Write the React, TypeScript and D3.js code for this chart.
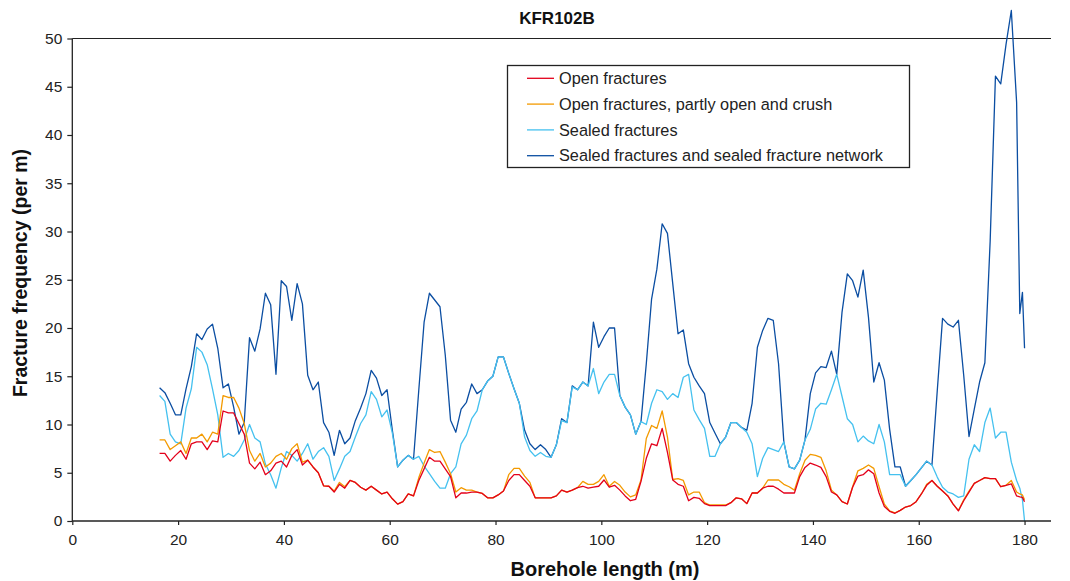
import * as d3 from 'd3';
import React, { useEffect, useRef } from 'react';

// borehole length (m) of each sample
const depths = [
  16.5, 17.5, 18.5, 19.5, 20.5, 21.5, 22.5, 23.5, 24.5, 25.5, 26.5, 27.5, 28.5, 29.5, 30.5, 31.5,
  32.5, 33.5, 34.5, 35.5, 36.5, 37.5, 38.5, 39.5, 40.5, 41.5, 42.5, 43.5, 44.5, 45.5, 46.5, 47.5,
  48.5, 49.5, 50.5, 51.5, 52.5, 53.5, 54.5, 55.5, 56.5, 57.5, 58.5, 59.5, 60.5, 61.5, 62.5, 63.5,
  64.5, 65.5, 66.5, 67.5, 68.5, 69.5, 70.5, 71.5, 72.5, 73.5, 74.5, 75.5, 76.5, 77.5, 78.5, 79.5,
  80.5, 81.5, 82.5, 83.5, 84.5, 85.5, 86.5, 87.5, 88.5, 89.5, 90.5, 91.5, 92.5, 93.5, 94.5, 95.5,
  96.5, 97.5, 98.5, 99.5, 100.5, 101.5, 102.5, 103.5, 104.5, 105.5, 106.5, 107.5, 108.5, 109.5, 110.5, 111.5,
  112.5, 113.5, 114.5, 115.5, 116.5, 117.5, 118.5, 119.5, 120.5, 121.5, 122.5, 123.5, 124.5, 125.5, 126.5, 127.5,
  128.5, 129.5, 130.5, 131.5, 132.5, 133.5, 134.5, 135.5, 136.5, 137.5, 138.5, 139.5, 140.5, 141.5, 142.5, 143.5,
  144.5, 145.5, 146.5, 147.5, 148.5, 149.5, 150.5, 151.5, 152.5, 153.5, 154.5, 155.5, 156.5, 157.5, 158.5, 159.5,
  160.5, 161.5, 162.5, 163.5, 164.5, 165.5, 166.5, 167.5, 168.5, 169.5, 170.5, 171.5, 172.5, 173.5, 174.5, 175.5,
  176.5, 177.5, 178.5, 179.1, 179.6, 180.0,
];

const openFractures = [
  7.0, 7.0, 6.2, 6.8, 7.3, 6.4, 8.0, 8.2, 8.2, 7.4, 8.3, 8.2, 11.4, 11.2, 11.2, 10.1,
  9.0, 6.0, 5.4, 6.1, 4.8, 5.2, 6.0, 6.2, 5.6, 6.8, 7.4, 5.8, 6.3, 5.6, 5.0, 3.65,
  3.6, 3.0, 3.8, 3.4, 4.2, 4.0, 3.5, 3.2, 3.6, 3.2, 2.8, 3.0, 2.3, 1.75, 2.0, 2.8,
  2.6, 4.2, 5.4, 6.6, 6.2, 6.2, 5.4, 4.6, 2.4, 2.9, 2.9, 3.0, 3.0, 2.86, 2.4, 2.4,
  2.7, 3.1, 4.2, 4.8, 4.8, 4.2, 3.6, 2.4, 2.4, 2.4, 2.4, 2.6, 3.2, 3.0, 3.2, 3.45,
  3.6, 3.4, 3.5, 3.6, 4.25, 3.5, 3.7, 3.2, 2.6, 2.1, 2.25, 4.1, 6.5, 8.0, 7.8, 9.6,
  7.1, 4.25, 3.8, 3.6, 2.1, 2.45, 2.35, 1.8, 1.6, 1.6, 1.6, 1.6, 1.9, 2.4, 2.3, 1.8,
  2.9, 2.9, 3.4, 3.6, 3.6, 3.3, 2.9, 2.9, 2.9, 4.6, 5.55, 6.0, 5.8, 5.55, 4.6, 3.0,
  2.7, 2.0, 1.76, 3.5, 4.65, 4.8, 5.3, 4.9, 2.9, 1.5, 1.0, 0.8, 1.1, 1.45, 1.6, 2.0,
  2.8, 3.7, 4.2, 3.6, 3.1, 2.6, 1.75, 1.05, 2.1, 3.0, 3.9, 4.2, 4.5, 4.4, 4.4, 3.55,
  3.7, 3.85, 2.6, 2.5, 2.45, 2.0,
];

const openPartlyCrush = [
  8.4, 8.4, 7.4, 7.8, 8.2, 7.0, 8.6, 8.6, 9.0, 8.2, 9.2, 9.0, 13.0, 12.8, 12.8, 11.7,
  10.1, 7.3, 6.2, 7.0, 5.6, 6.0, 6.7, 7.0, 6.4, 7.5, 8.0, 6.1, 6.3, 5.6, 5.0, 3.65,
  3.6, 3.1, 4.0, 3.55, 4.2, 4.0, 3.5, 3.2, 3.6, 3.2, 2.8, 3.0, 2.3, 1.75, 2.0, 2.8,
  2.6, 4.5, 6.0, 7.4, 7.1, 7.2, 6.1, 4.9, 3.0, 3.45, 3.2, 3.2, 3.0, 2.86, 2.4, 2.4,
  2.7, 3.1, 4.8, 5.45, 5.45, 4.65, 4.0, 2.4, 2.4, 2.4, 2.4, 2.6, 3.2, 3.0, 3.2, 3.45,
  4.1, 3.8, 3.8, 4.1, 4.8, 3.6, 4.1, 3.7, 3.0, 2.5, 2.7, 4.25, 8.55, 9.9, 9.6, 11.4,
  8.7, 4.3, 4.4, 4.2, 2.7, 3.0, 3.0, 1.9, 1.66, 1.66, 1.66, 1.66, 1.9, 2.4, 2.3, 1.8,
  2.9, 2.9, 3.4, 4.25, 4.25, 4.25, 3.8, 3.55, 3.2, 4.9, 6.3, 6.9, 6.8, 6.6, 5.2, 3.2,
  2.7, 2.0, 1.76, 3.55, 5.2, 5.45, 5.8, 5.45, 3.55, 1.75, 1.05, 0.85, 1.1, 1.45, 1.6, 2.0,
  2.8, 3.8, 4.2, 3.6, 3.1, 2.6, 1.75, 1.1, 2.2, 3.1, 3.9, 4.2, 4.5, 4.4, 4.4, 3.55,
  3.7, 4.2, 3.0, 2.8, 2.7, 2.2,
];

const sealedFractures = [
  13.0, 12.4, 9.0, 8.2, 8.0, 11.7, 13.7, 18.0, 17.5, 16.2, 13.7, 11.0, 6.6, 7.0, 6.7, 7.3,
  8.4, 10.0, 8.6, 8.2, 5.9, 4.8, 3.4, 5.5, 7.2, 6.8, 6.2, 7.0, 8.0, 6.4, 7.2, 7.6,
  6.7, 4.2, 5.4, 6.7, 7.2, 8.7, 10.1, 11.0, 13.4, 12.6, 10.8, 11.5, 9.1, 5.6, 6.3, 6.8,
  6.4, 6.7, 5.7, 4.9, 4.1, 3.4, 3.4, 4.9, 5.6, 8.0, 8.9, 10.6, 11.4, 13.6, 14.5, 15.0,
  17.0, 17.0, 15.3, 13.7, 12.2, 8.7, 7.3, 6.7, 7.1, 6.7, 6.6, 7.9, 10.4, 10.2, 13.9, 13.6,
  14.4, 14.0, 15.8, 13.2, 14.4, 15.2, 15.2, 13.0, 11.8, 11.0, 9.0, 10.3, 10.0, 12.2, 13.6, 13.4,
  12.6, 13.2, 12.8, 14.9, 15.2, 11.5, 10.5, 9.6, 6.7, 6.7, 8.0, 8.7, 10.2, 10.2, 9.7, 9.2,
  8.0, 4.6, 6.5, 7.6, 7.4, 7.2, 8.2, 5.6, 5.4, 6.3, 8.4, 9.5, 11.6, 12.2, 12.1, 13.6,
  15.2, 12.9, 10.6, 10.0, 8.2, 8.8, 8.3, 8.0, 10.0, 8.2, 4.8, 4.8, 4.8, 3.6, 4.2, 4.8,
  5.5, 6.2, 5.8, 4.55, 3.5, 3.0, 2.8, 2.45, 2.6, 6.4, 7.9, 7.2, 10.2, 11.7, 8.6, 9.2,
  9.2, 6.1, 4.2, 3.4, 2.2, 0.0,
];

const sealedNetwork = [
  13.8, 13.3, 12.2, 11.0, 11.0, 13.7, 16.0, 19.4, 18.8, 19.9, 20.4, 17.9, 13.8, 14.2, 11.8, 9.0,
  10.2, 19.0, 17.6, 19.9, 23.6, 22.4, 15.2, 24.9, 24.3, 20.8, 24.6, 22.5, 15.1, 13.6, 14.4, 10.2,
  9.2, 6.8, 9.4, 8.0, 8.6, 10.4, 11.7, 13.2, 15.6, 14.8, 13.0, 13.6, 9.4, 5.6, 6.3, 6.8,
  6.4, 13.6, 20.6, 23.6, 22.9, 22.2, 17.2, 10.45, 9.2, 11.6, 12.3, 14.2, 13.2, 13.6, 14.5, 15.0,
  17.0, 17.0, 15.3, 13.7, 12.2, 9.4, 8.0, 7.4, 7.9, 7.4, 6.6, 7.9, 10.6, 10.2, 14.0, 13.6,
  14.4, 14.0, 20.6, 18.0, 19.1, 20.0, 20.0, 13.0, 11.8, 11.0, 9.0, 10.3, 16.3, 23.0, 26.1, 30.8,
  29.8, 24.6, 19.4, 19.8, 16.3, 14.9, 14.0, 13.2, 10.2, 9.1, 8.0, 8.7, 10.2, 10.2, 9.7, 9.4,
  12.2, 18.0, 19.75, 21.0, 20.8, 16.3, 8.2, 5.6, 5.4, 6.3, 8.4, 13.2, 15.35, 16.0, 15.9, 17.6,
  15.2, 21.65, 25.6, 24.9, 23.2, 26.0, 21.1, 14.4, 16.4, 14.6, 9.5, 5.6, 5.6, 3.6, 4.2, 4.8,
  5.5, 6.2, 5.8, 13.5, 21.0, 20.4, 20.1, 20.8, 15.1, 8.75, 11.6, 14.4, 16.4, 29.0, 46.1, 45.3,
  49.4, 52.9, 43.4, 21.5, 23.7, 17.9,
];

const seriesNames = [
  'Open fractures',
  'Open fractures, partly open and crush',
  'Sealed fractures',
  'Sealed fractures and sealed fracture network',
];
const seriesColors = ['#e3001b', '#f39a00', '#45c1ef', '#0b4ea2'];
const xTicks = [0, 20, 40, 60, 80, 100, 120, 140, 160, 180];
const yTicks = [0, 5, 10, 15, 20, 25, 30, 35, 40, 45, 50];

const W = 1070;
const H = 581;
const FONT = '"Liberation Sans", Arial, sans-serif';

const App = () => {
  const ref = useRef<SVGSVGElement>(null);

  useEffect(() => {
    const svg = d3.select(ref.current);
    svg.selectAll('*').remove();

    const x = d3.scaleLinear().domain([0, 185]).range([72.3, 1051]);
    const y = d3.scaleLinear().domain([0, 50]).range([521, 38.5]);

    // line at 50 across the plot
    svg.append('line')
      .attr('x1', x(0)).attr('x2', x(185))
      .attr('y1', y(50)).attr('y2', y(50))
      .attr('stroke', '#222').attr('stroke-width', 1.2);

    const series = [openFractures, openPartlyCrush, sealedFractures, sealedNetwork];
    const line = d3.line<number>()
      .x((d, i) => x(depths[i]))
      .y(d => y(d));

    // draw sealed first so open fractures sit on top
    [3, 2, 1, 0].forEach(k => {
      svg.append('path')
        .datum(series[k])
        .attr('fill', 'none')
        .attr('stroke', seriesColors[k])
        .attr('stroke-width', 1.3)
        .attr('stroke-linejoin', 'round')
        .attr('d', line);
    });

    const xAxis = svg.append('g')
      .attr('transform', `translate(0,${y(0)})`)
      .call(d3.axisBottom(x).tickValues(xTicks).tickSize(4).tickPadding(9).tickFormat(d3.format('d')));
    const yAxis = svg.append('g')
      .attr('transform', `translate(${x(0)},0)`)
      .call(d3.axisLeft(y).tickValues(yTicks).tickSize(5).tickPadding(5).tickFormat(d3.format('d')));

    [xAxis, yAxis].forEach(g => {
      g.select('.domain').attr('stroke', '#222').attr('stroke-width', 1.3);
      g.selectAll('.tick line').attr('stroke', '#222').attr('stroke-width', 1.2);
      g.selectAll('.tick text')
        .attr('fill', '#222')
        .style('font-family', FONT)
        .style('font-size', '15.5px');
    });
    yAxis.select('.domain').attr('d', `M0,${y(0)}V${y(50)}`);
    xAxis.select('.domain').attr('d', `M${x(0)},0H${x(185)}`);

    svg.append('text')
      .attr('x', 557).attr('y', 24)
      .attr('text-anchor', 'middle')
      .style('font-family', FONT).style('font-size', '17px').style('font-weight', 'bold')
      .attr('fill', '#111')
      .text('KFR102B');

    svg.append('text')
      .attr('x', 605).attr('y', 576)
      .attr('text-anchor', 'middle')
      .style('font-family', FONT).style('font-size', '20px').style('font-weight', 'bold')
      .attr('fill', '#111')
      .text('Borehole length (m)');

    svg.append('text')
      .attr('transform', `translate(27,273) rotate(-90)`)
      .attr('text-anchor', 'middle')
      .style('font-family', FONT).style('font-size', '19.5px').style('font-weight', 'bold')
      .attr('fill', '#111')
      .text('Fracture frequency (per m)');

    // legend
    const legend = svg.append('g');
    legend.append('rect')
      .attr('x', 507.5).attr('y', 65.5)
      .attr('width', 402).attr('height', 102)
      .attr('fill', 'white')
      .attr('stroke', '#222').attr('stroke-width', 1.3);

    const rows = legend.selectAll('g.row')
      .data(seriesNames)
      .enter().append('g')
      .attr('class', 'row')
      .attr('transform', (d, i) => `translate(0,${78.3 + i * 25.8})`);

    rows.append('line')
      .attr('x1', 527).attr('x2', 554)
      .attr('stroke', (d, i) => seriesColors[i])
      .attr('stroke-width', 1.3);

    rows.append('text')
      .attr('x', 559).attr('dy', '0.35em')
      .style('font-family', FONT).style('font-size', '16.3px')
      .attr('fill', '#222')
      .text(d => d);
  }, []);

  return (
    <svg
      ref={ref}
      width={W}
      height={H}
      style={{ position: 'absolute', left: 0, top: 0, background: 'white' }}
    />
  );
};

export default App;
